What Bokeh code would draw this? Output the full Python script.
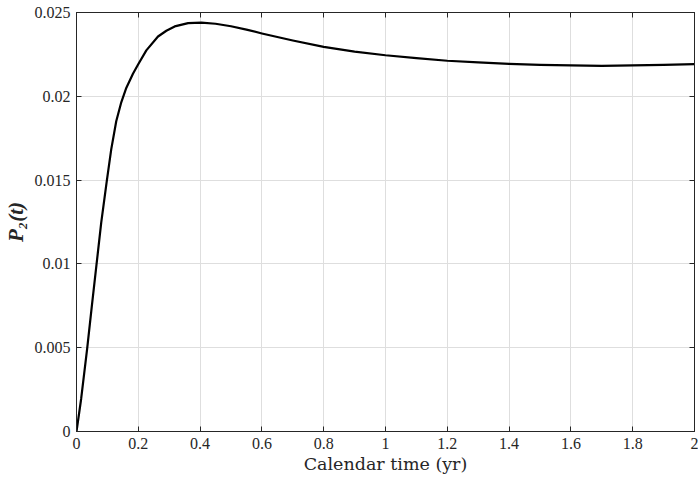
from bokeh.plotting import figure
from bokeh.models import LinearAxis, FixedTicker, Range1d
from bokeh.embed import file_html
from bokeh.resources import INLINE

# Data
t_vals = [0.0, 0.015, 0.0346, 0.0497, 0.0649, 0.080, 0.0984, 0.1124, 0.1286, 0.1449,
          0.1611, 0.1827, 0.1989, 0.226, 0.2638, 0.2908, 0.3178, 0.3611, 0.4043, 0.45,
          0.5, 0.55, 0.6, 0.7, 0.8, 0.9, 1.0, 1.1, 1.2, 1.3,
          1.4, 1.5, 1.6, 1.7, 1.8, 1.9, 2.0]
p2_vals = [0.0, 0.00194, 0.00496, 0.0075, 0.00998, 0.01246, 0.0150, 0.01683, 0.01851, 0.01964,
           0.0205, 0.02135, 0.02188, 0.02274, 0.02357, 0.02391, 0.02417, 0.02437, 0.0244, 0.02433,
           0.02418, 0.02398, 0.02375, 0.02333, 0.02295, 0.02267, 0.02245, 0.02228, 0.02212, 0.02202,
           0.02194, 0.02188, 0.02184, 0.02182, 0.02184, 0.02187, 0.02192]

x_ticks = [0, 0.2, 0.4, 0.6, 0.8, 1.0, 1.2, 1.4, 1.6, 1.8, 2.0]
x_labels = ["0", "0.2", "0.4", "0.6", "0.8", "1", "1.2", "1.4", "1.6", "1.8", "2"]
y_ticks = [0, 0.005, 0.01, 0.015, 0.02, 0.025]
y_labels = ["0", "0.005", "0.01", "0.015", "0.02", "0.025"]

AX = "#262626"
TICK_FONT = "Liberation Serif"

p = figure(frame_width=618, frame_height=419, output_backend="svg", toolbar_location=None,
           x_range=Range1d(0, 2), y_range=Range1d(0, 0.025),
           min_border_left=68, min_border_top=12, min_border_right=4, min_border_bottom=40,
           background_fill_color="white", border_fill_color="white")
p.outline_line_color = AX
p.outline_line_width = 1
p.outline_line_alpha = 1

p.line(t_vals, p2_vals, line_color="black", line_width=2.2, line_join="round")

for ax, ticks, labels in ((p.xaxis[0], x_ticks, x_labels), (p.yaxis[0], y_ticks, y_labels)):
    ax.ticker = FixedTicker(ticks=ticks)
    ax.major_label_overrides = {tk: lb for tk, lb in zip(ticks, labels)}
    ax.major_tick_in = 5
    ax.major_tick_out = 0
    ax.minor_tick_line_color = None
    ax.axis_line_color = AX
    ax.major_tick_line_color = AX
    ax.major_label_text_font = TICK_FONT
    ax.major_label_text_font_size = "16px"
    ax.major_label_text_color = AX

p.xaxis[0].major_label_standoff = 6
p.yaxis[0].major_label_standoff = 6
p.xaxis[0].axis_label = "Calendar time (yr)"
p.xaxis[0].axis_label_text_font = "DejaVu Serif"
p.xaxis[0].axis_label_text_font_size = "17.5px"
p.xaxis[0].axis_label_text_font_style = "normal"
p.xaxis[0].axis_label_text_color = AX
p.xaxis[0].axis_label_standoff = 2

p.yaxis[0].axis_label = "P\u2082(t)"
p.yaxis[0].axis_label_text_font = "Liberation Serif"
p.yaxis[0].axis_label_text_font_size = "21px"
p.yaxis[0].axis_label_text_font_style = "bold italic"
p.yaxis[0].axis_label_text_color = AX
p.yaxis[0].axis_label_standoff = 4

# box ticks on top and right (MATLAB style), without labels
top = LinearAxis(ticker=FixedTicker(ticks=x_ticks), major_tick_in=5, major_tick_out=0,
                 minor_tick_line_color=None,
                 major_label_overrides={tk: "" for tk in x_ticks},
                 axis_line_color=AX, major_tick_line_color=AX, major_label_standoff=0)
right = LinearAxis(ticker=FixedTicker(ticks=y_ticks), major_tick_in=5, major_tick_out=0,
                   minor_tick_line_color=None,
                   major_label_overrides={tk: "" for tk in y_ticks},
                   axis_line_color=AX, major_tick_line_color=AX, major_label_standoff=0)
p.add_layout(top, "above")
p.add_layout(right, "right")

p.xgrid.ticker = FixedTicker(ticks=x_ticks)
p.ygrid.ticker = FixedTicker(ticks=y_ticks)
p.grid.grid_line_color = "#dedede"
p.grid.grid_line_width = 1

open("out.html", "w").write(file_html(p, INLINE))
